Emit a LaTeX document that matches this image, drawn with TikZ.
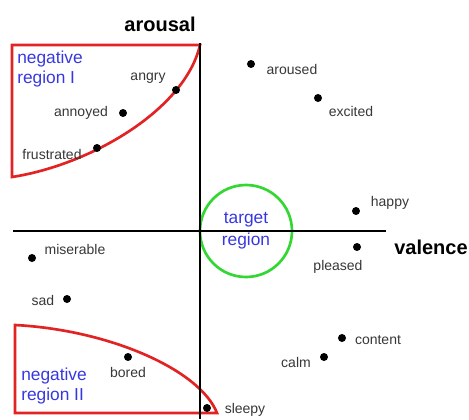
\documentclass[tikz,border=0pt]{standalone}
\usepackage{fontspec}
\setmainfont{Liberation Sans}
\definecolor{regred}{RGB}{225,35,35}
\definecolor{regblue}{RGB}{55,55,225}
\definecolor{targetgreen}{RGB}{50,215,50}
\definecolor{moodgray}{RGB}{55,55,55}

\begin{document}
\begin{tikzpicture}[x=0.75pt,y=0.75pt]
\tikzstyle{every node}+=[inner sep=0pt]
\tikzstyle{mooddot}=[circle,fill=black,minimum size=6pt]
\tikzstyle{mood}=[font=\fontsize{10.5}{12}\selectfont,text=moodgray]
\tikzstyle{regionlabel}=[font=\fontsize{13}{15.5}\selectfont,text=regblue,align=left]
\tikzstyle{axislabel}=[font=\fontsize{15}{18}\selectfont\bfseries]
\useasboundingbox (0,0) rectangle (469,-419);
% negative regions
\draw [regred,line width=2pt] (12,-45) -- (200,-45) .. controls (185,-110) and (90,-165) .. (12,-177) -- cycle;
\draw [regred,line width=2pt] (15,-325) .. controls (110,-330) and (200,-370) .. (217,-413) -- (15,-413) -- cycle;
\node [regionlabel,anchor=west] (negI) at (17,-69) {negative\\region I};
\node [regionlabel,anchor=west] (negII) at (21,-386) {negative\\region II};
% target region
\node [circle,draw=targetgreen,line width=2pt,minimum size=69pt,align=center,text=regblue,font=\fontsize{13}{16.5}\selectfont] (target) at (246,-231) {target\\region};
% axes
\coordinate (ytop) at (200,-43);
\coordinate (ybot) at (200,-419);
\coordinate (xleft) at (13,-231);
\coordinate (xright) at (386,-231);
\draw [black,line width=1.4pt] (ytop) -- (ybot);
\draw [black,line width=1.4pt] (xleft) -- (xright);
\node [axislabel] (arousal) at (160,-24) {arousal};
\node [axislabel] (valence) at (431,-247) {valence};
% moods
\node [mooddot] (angry) at (176,-90) {};
\node [mood] (angrylbl) at (148,-78) {angry};
\node [mooddot] (annoyed) at (123,-113) {};
\node [mood] (annoyedlbl) at (81,-113) {annoyed};
\node [mooddot] (frustrated) at (97,-148) {};
\node [mood] (frustratedlbl) at (52,-154) {frustrated};
\node [mooddot] (aroused) at (251,-64) {};
\node [mood] (arousedlbl) at (292,-69) {aroused};
\node [mooddot] (excited) at (318,-98) {};
\node [mood] (excitedlbl) at (351,-111) {excited};
\node [mooddot] (happy) at (356,-211) {};
\node [mood] (happylbl) at (390,-203) {happy};
\node [mooddot] (pleased) at (357,-247) {};
\node [mood] (pleasedlbl) at (338,-267) {pleased};
\node [mooddot] (miserable) at (32,-258) {};
\node [mood] (miserablelbl) at (75,-249) {miserable};
\node [mooddot] (sad) at (67,-299) {};
\node [mood] (sadlbl) at (43,-300) {sad};
\node [mooddot] (bored) at (128,-357) {};
\node [mood] (boredlbl) at (128,-372) {bored};
\node [mooddot] (sleepy) at (207,-408) {};
\node [mood] (sleepylbl) at (245,-410) {sleepy};
\node [mooddot] (content) at (342,-338) {};
\node [mood] (contentlbl) at (378,-340) {content};
\node [mooddot] (calm) at (324,-357) {};
\node [mood] (calmlbl) at (296,-362) {calm};
\end{tikzpicture}
\end{document}
